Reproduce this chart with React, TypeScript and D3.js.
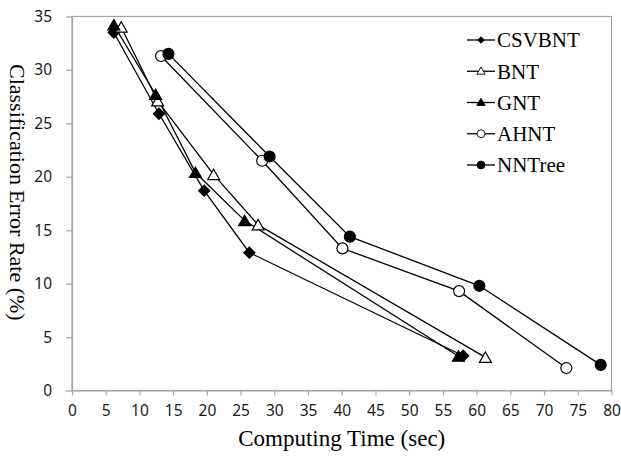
import React, { useRef, useEffect } from "react";
import * as d3 from "d3";

const seriesNames = ["CSVBNT", "BNT", "GNT", "AHNT", "NNTree"];
const csvbntTime = [6.2, 12.9, 19.6, 26.3, 58.0];
const csvbntErr = [33.5, 25.9, 18.7, 12.9, 3.25];
const bntTime = [7.3, 12.7, 21.0, 27.6, 61.3];
const bntErr = [34.0, 27.1, 20.2, 15.5, 3.1];
const gntTime = [6.2, 12.4, 18.3, 25.6, 57.3];
const gntErr = [34.2, 27.7, 20.4, 15.9, 3.2];
const ahntTime = [13.2, 28.2, 40.1, 57.4, 73.3];
const ahntErr = [31.3, 21.5, 13.3, 9.3, 2.1];
const nntreeTime = [14.3, 29.3, 41.2, 60.4, 78.4];
const nntreeErr = [31.5, 21.9, 14.4, 9.8, 2.4];
const xTicks = d3.range(0, 81, 5);
const yTicks = d3.range(0, 36, 5);

const W = 621;
const H = 460;

export default function App() {
  const ref = useRef<SVGSVGElement>(null);

  useEffect(() => {
    const svg = d3.select(ref.current);
    svg.selectAll("*").remove();

    const left = 72, right = 611.5, top = 16.5, bottom = 390.5;
    const x = d3.scaleLinear().domain([0, 80]).range([left, right]);
    const y = d3.scaleLinear().domain([0, 35]).range([bottom, top]);

    const series = [
      { name: seriesNames[0], t: csvbntTime, e: csvbntErr, shape: "diamond", fill: true },
      { name: seriesNames[1], t: bntTime, e: bntErr, shape: "triangle", fill: false },
      { name: seriesNames[2], t: gntTime, e: gntErr, shape: "triangle", fill: true },
      { name: seriesNames[3], t: ahntTime, e: ahntErr, shape: "circle", fill: false },
      { name: seriesNames[4], t: nntreeTime, e: nntreeErr, shape: "circle", fill: true },
    ];

    const gray = "#a6a6a6";
    const serif = "'Liberation Serif', 'Times New Roman', serif";

    // frame
    svg.append("rect")
      .attr("x", left).attr("y", top)
      .attr("width", right - left).attr("height", bottom - top)
      .attr("fill", "none").attr("stroke", gray).attr("stroke-width", 1.2);

    const tickFont = "'Noto Sans', 'Open Sans', sans-serif";

    const xAxis = svg.append("g")
      .attr("transform", `translate(0,${bottom})`)
      .call(d3.axisBottom(x).tickValues(xTicks).tickSize(5).tickSizeOuter(0).tickPadding(9));
    const yAxis = svg.append("g")
      .attr("transform", `translate(${left},0)`)
      .call(d3.axisLeft(y).tickValues(yTicks).tickSize(6).tickSizeOuter(0).tickPadding(14));

    [xAxis, yAxis].forEach((g) => {
      g.select(".domain").attr("stroke", gray).attr("stroke-width", 1.2);
      g.selectAll(".tick line").attr("stroke", gray).attr("stroke-width", 1.2);
      g.selectAll(".tick text")
        .attr("fill", "#1a1a1a")
        .style("font-family", tickFont)
        .style("font-size", "15.5px");
    });

    const symbolPath = (shape: string, size: number) => {
      if (shape === "diamond") return d3.symbol(d3.symbolSquare, size)();
      if (shape === "triangle") return d3.symbol(d3.symbolTriangle, size)();
      return d3.symbol(d3.symbolCircle, size)();
    };

    series.forEach((s) => {
      const pts = s.t.map((t, i) => [x(t), y(s.e[i])] as [number, number]);
      svg.append("path")
        .attr("d", d3.line()(pts))
        .attr("fill", "none")
        .attr("stroke", "#000")
        .attr("stroke-width", 1.3);
    });

    series.forEach((s) => {
      const size = s.shape === "diamond" ? 62 : s.shape === "triangle" ? 62 : 95;
      s.t.forEach((t, i) => {
        const rot = s.shape === "diamond" ? " rotate(45)" : "";
        const dy = s.shape === "triangle" ? 1.5 : 0;
        svg.append("path")
          .attr("d", symbolPath(s.shape, size))
          .attr("transform", `translate(${x(t)},${y(s.e[i]) + dy})${rot}`)
          .attr("fill", s.fill ? "#000" : "#fff")
          .attr("stroke", "#000")
          .attr("stroke-width", 1.2);
      });
    });

    // legend
    const legY = d3.scalePoint().domain(seriesNames).range([40, 165]);
    series.forEach((s) => {
      const ly = legY(s.name) as number;
      const g = svg.append("g").attr("transform", `translate(467,${ly})`);
      g.append("line").attr("x1", 0).attr("x2", 28).attr("y1", 0).attr("y2", 0)
        .attr("stroke", "#000").attr("stroke-width", 1.3);
      const size = s.shape === "diamond" ? 22 : s.shape === "triangle" ? 30 : 48;
      const rot = s.shape === "diamond" ? " rotate(45)" : "";
      g.append("path")
        .attr("d", symbolPath(s.shape, size))
        .attr("transform", `translate(14,${s.shape === "triangle" ? 0.5 : 0})${rot}`)
        .attr("fill", s.fill ? "#000" : "#fff")
        .attr("stroke", "#000")
        .attr("stroke-width", 0.9);
      g.append("text")
        .attr("x", 30).attr("y", 0).attr("dy", "0.35em")
        .style("font-family", serif)
        .style("font-size", "21px")
        .text(s.name);
    });

    // axis titles
    svg.append("text")
      .attr("x", (left + right) / 2).attr("y", 446)
      .attr("text-anchor", "middle")
      .style("font-family", serif)
      .style("font-size", "23px")
      .text("Computing Time (sec)");

    const yTitle = svg.append("text")
      .attr("transform", `translate(10,64) rotate(90)`)
      .attr("text-anchor", "start")
      .style("font-family", serif)
      .style("font-size", "22px");
    yTitle.append("tspan").text("Classification");
    yTitle.append("tspan").attr("dx", 5).text("Error Rate (%)");
  }, []);

  return (
    <svg
      ref={ref}
      width={W}
      height={H}
      style={{ position: "absolute", left: 0, top: 0, background: "#fff" }}
    />
  );
}
